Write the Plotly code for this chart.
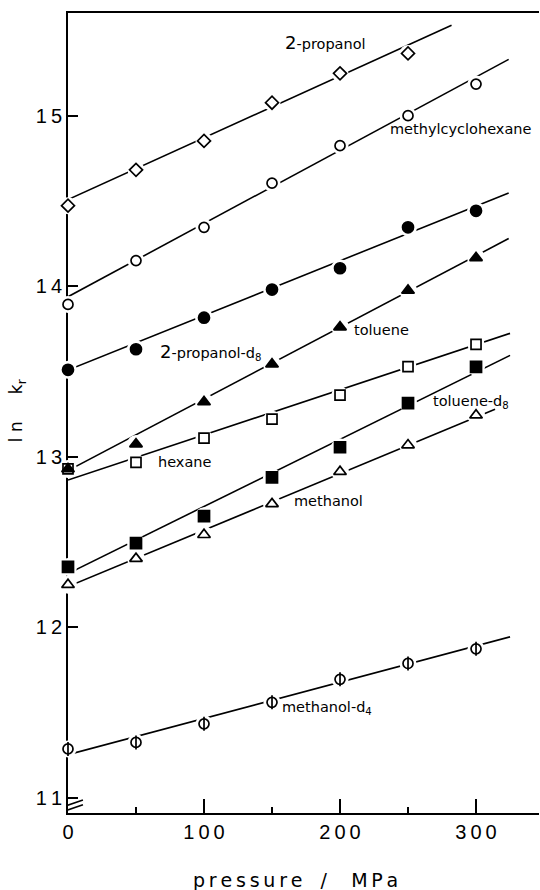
import plotly.graph_objects as go

# ---------------- data ----------------
pressure = [0, 50, 100, 150, 200, 250, 300]          # MPa

propanol_2 = [14.474, 14.684, 14.854, 15.078, 15.250, 15.367]           # x = 0..250
methylcyclohexane = [13.895, 14.152, 14.347, 14.606, 14.826, 15.002, 15.187]
propanol_2_d8 = [13.511, 13.632, 13.817, 13.982, 14.107, 14.347, 14.444]
hexane = [12.930, 12.969, 13.111, 13.222, 13.363, 13.530, 13.661]
toluene = [12.930, 13.076, 13.323, 13.544, 13.762, 13.977, 14.168]
toluene_d8 = [12.355, 12.495, 12.653, 12.881, 13.057, 13.316, 13.528]
methanol = [12.251, 12.404, 12.544, 12.725, 12.914, 13.070, 13.245]
methanol_d4 = [11.288, 11.326, 11.435, 11.561, 11.696, 11.789, 11.875]

series_names = ["2-propanol", "methylcyclohexane", "2-propanol-d8", "hexane",
                "toluene", "toluene-d8", "methanol", "methanol-d4"]
series_values = [propanol_2, methylcyclohexane, propanol_2_d8, hexane,
                 toluene, toluene_d8, methanol, methanol_d4]

# straight fitted lines drawn in the figure: value at p = 0 and at the line's end
fit_y_start = [14.51, 13.94, 13.51, 12.865, 12.92, 12.316, 12.24, 11.254]
fit_y_end = [15.532, 15.332, 14.548, 13.725, 14.281, 13.596, 13.28, 11.945]
fit_p_end = [282, 324, 324, 325, 324, 325, 314, 325]

y_tick_values = [11, 12, 13, 14, 15]
x_tick_values = [0, 100, 200, 300]

# ---------------- styles ----------------
TS = "\u2009"  # thin space, the original uses widely spaced digits/letters
styles = [
    dict(symbol="diamond", size=10, fill="white"),
    dict(symbol="circle", size=10, fill="white"),
    dict(symbol="circle", size=11, fill="black"),
    dict(symbol="square", size=10, fill="white"),
    dict(symbol="triangle-up", size=11, fill="black"),
    dict(symbol="square", size=11, fill="black"),
    dict(symbol="triangle-up", size=11, fill="white"),
    dict(symbol="circle", size=10, fill="white"),
]

fig = go.Figure()

# fitted lines
for i in range(len(series_names)):
    fig.add_trace(go.Scatter(
        x=[0, fit_p_end[i]], y=[fit_y_start[i], fit_y_end[i]],
        mode="lines", line=dict(color="black", width=1.6),
        hoverinfo="skip", showlegend=False))

# white halos that open small gaps in the lines around every point
for i, vals in enumerate(series_values):
    fig.add_trace(go.Scatter(
        x=pressure[:len(vals)], y=vals, mode="markers",
        marker=dict(symbol="circle", size=styles[i]["size"] + 7, color="white",
                    line=dict(width=0)),
        cliponaxis=False, hoverinfo="skip", showlegend=False))

# data points
for i, vals in enumerate(series_values):
    st = styles[i]
    fig.add_trace(go.Scatter(
        x=pressure[:len(vals)], y=vals, mode="markers", name=series_names[i],
        marker=dict(symbol=st["symbol"], size=st["size"], color=st["fill"],
                    line=dict(color="black", width=1.7)),
        cliponaxis=False, showlegend=False))

# vertical bar inside the methanol-d4 circles
fig.add_trace(go.Scatter(
    x=pressure[:len(methanol_d4)], y=methanol_d4, mode="markers",
    marker=dict(symbol="line-ns-open", size=10, color="black",
                line=dict(color="black", width=1.7)),
    cliponaxis=False, hoverinfo="skip", showlegend=False))

# ---------------- curve labels ----------------
big2 = '<span style="font-size:18px">2</span>'
labels = [
    (big2 + "-propanol", 158, 15.43),
    ("methylcyclohexane", 235, 14.924),
    (big2 + "-propanol-d<sub>8</sub>", 66, 13.615),
    ("toluene", 209, 13.745),
    ("hexane", 65, 12.972),
    ("toluene-d<sub>8</sub>", 267, 13.32),
    ("methanol", 165, 12.739),
    ("methanol-d<sub>4</sub>", 156, 11.525),
]
for text, lx, ly in labels:
    fig.add_annotation(x=lx, y=ly, xref="x", yref="y", text=text, showarrow=False,
                       xanchor="left", yanchor="middle",
                       font=dict(family="DejaVu Sans", size=14.5, color="black"))

# axis titles
fig.add_annotation(xref="paper", yref="paper", x=-0.108, y=0.5025,
                   text="l\u00a0n\u00a0\u00a0\u00a0\u00a0\u00a0k<sub>r</sub>",
                   textangle=-90, showarrow=False, xanchor="center", yanchor="middle",
                   font=dict(family="DejaVu Sans", size=17, color="black"))
press_txt = TS.join("pressure") + "\u00a0\u00a0\u00a0" + "/" + "\u00a0\u00a0\u00a0\u00a0" + TS.join("MPa")
fig.add_annotation(xref="paper", yref="paper", x=0.484, y=-0.084,
                   text=press_txt, showarrow=False, xanchor="center", yanchor="middle",
                   font=dict(family="DejaVu Sans", size=19, color="black"))

# axis break marks near the bottom of the y axis
for yb0, yb1 in [(10.953, 10.988), (10.925, 10.960)]:
    fig.add_shape(type="line", xref="x", yref="y", x0=-2, x1=11, y0=yb0, y1=yb1,
                  line=dict(color="black", width=1.6))

fig.update_layout(
    width=540, height=890,
    margin=dict(l=68, r=1, t=13, b=77),
    plot_bgcolor="white", paper_bgcolor="white",
    showlegend=False,
)
fig.update_xaxes(
    range=[0, 346.3],
    tickvals=x_tick_values, ticktext=[TS.join(str(v)) for v in x_tick_values],
    ticks="inside", ticklen=14, tickwidth=1.6, tickcolor="black",
    minor=dict(dtick=50, tick0=0, ticks="inside", ticklen=6, tickwidth=1.6, tickcolor="black"),
    showline=True, linecolor="black", linewidth=2, mirror=True,
    showgrid=False, zeroline=False, layer="below traces",
    tickfont=dict(family="Liberation Sans", size=20, color="black"),
)
fig.update_yaxes(
    range=[10.912, 15.604],
    tickvals=y_tick_values, ticktext=[TS.join(str(v)) for v in y_tick_values],
    ticks="inside", ticklen=10, tickwidth=1.6, tickcolor="black",
    showline=True, linecolor="black", linewidth=2,
    showgrid=False, zeroline=False, layer="below traces",
    tickfont=dict(family="Liberation Sans", size=20, color="black"),
)

fig.write_html("out.html", config={"displayModeBar": False},
               post_script="document.body.style.margin='0';document.body.style.overflow='hidden';")
